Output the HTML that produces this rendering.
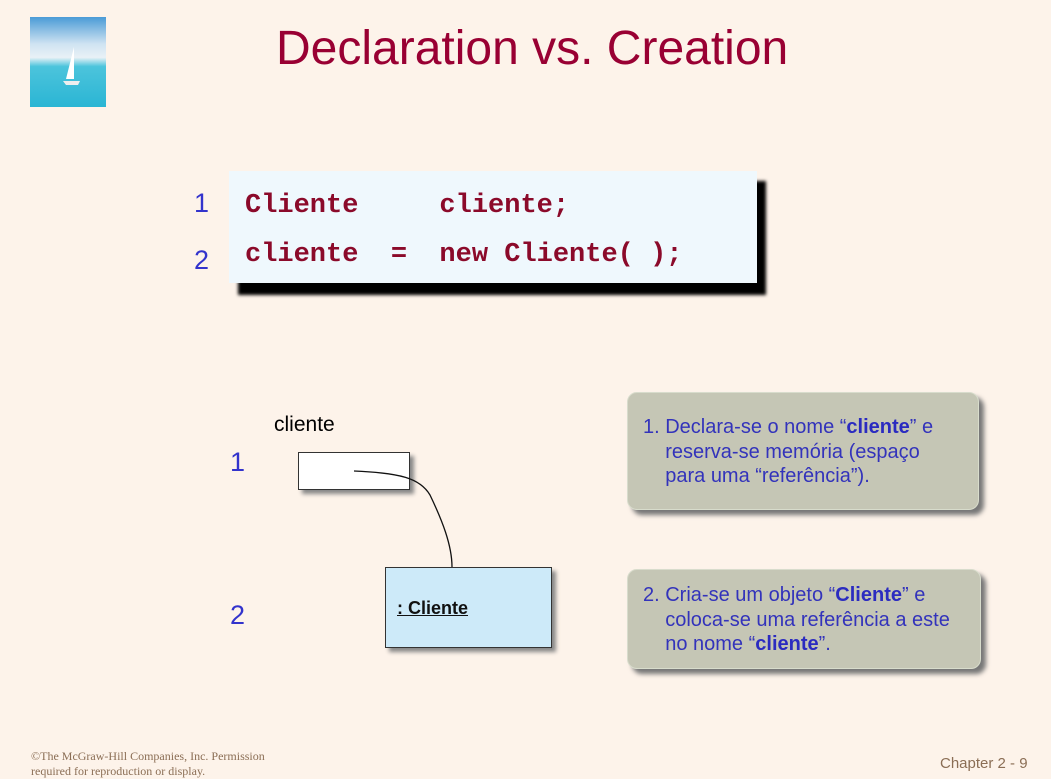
<!DOCTYPE html>
<html><head><meta charset="utf-8"><style>
body{margin:0;width:1051px;height:772px;background:#fdf3ea;position:relative;overflow:hidden;font-family:"Liberation Sans",sans-serif}
.a{position:absolute}
.code{font-family:"Liberation Mono",monospace;font-weight:bold;color:#8b0a2a;font-size:27px;white-space:pre}
.num{color:#3333cc;font-size:27px}
.note{background:#c5c6b5;border:1px solid #d8dccc;border-radius:10px;box-shadow:5px 5px 5px #777;color:#3333bb;font-size:20px;line-height:24.5px}
.note b{color:#2b2bc0}
</style></head><body>
<div class="a" style="left:30px;top:17px;width:76px;height:90px;background:linear-gradient(#4a9bd6 0%,#cfe3f2 30%,#e9f1f6 45%,#4cc4dc 55%,#2ab5d4 100%)"></div>
<svg class="a" style="left:30px;top:17px" width="76" height="90"><path d="M44 30 L44 62 L36 62 Z" fill="#fff"/><path d="M33 64 L50 64 L48 68 L36 68Z" fill="#eee"/></svg>
<div class="a" style="left:276px;top:21px;font-size:48px;color:#990033">Declaration vs. Creation</div>

<div class="a" style="left:238px;top:181px;width:528px;height:114px;background:#000;filter:blur(1.5px)"></div>
<div class="a" style="left:229px;top:171px;width:528px;height:112px;background:#eff8fd"></div>
<div class="a num" style="left:194px;top:188px">1</div>
<div class="a num" style="left:194px;top:245px">2</div>
<div class="a code" style="left:245px;top:191px">Cliente     cliente;</div>
<div class="a code" style="left:245px;top:240px">cliente  =  new Cliente( );</div>

<div class="a" style="left:274px;top:413px;font-size:21px;color:#000">cliente</div>
<div class="a num" style="left:230px;top:447px">1</div>
<div class="a num" style="left:230px;top:600px">2</div>
<div class="a" style="left:298px;top:452px;width:110px;height:36px;background:#fff;border:1px solid #333;box-shadow:4px 4px 4px #888"></div>
<div class="a" style="left:385px;top:567px;width:165px;height:79px;background:#cdeaf9;border:1px solid #333;box-shadow:4px 4px 4px #888"></div>
<div class="a" style="left:397px;top:598px;font-size:18px;font-weight:bold;text-decoration:underline;color:#111">: Cliente</div>
<svg class="a" style="left:0;top:0" width="1051" height="772"><path d="M354 471 C400 473 420 478 430 495 C442 520 452 545 452 567" fill="none" stroke="#111" stroke-width="1.3"/></svg>

<div class="a note" style="left:627px;top:392px;width:350px;height:116px">
<div style="padding:22px 0 0 15px">1. Declara-se o nome “<b>cliente</b>” e<br>&nbsp;&nbsp;&nbsp;&nbsp;reserva-se memória (espaço<br>&nbsp;&nbsp;&nbsp;&nbsp;para uma “referência”).</div></div>
<div class="a note" style="left:627px;top:569px;width:352px;height:98px">
<div style="padding:13px 0 0 15px">2. Cria-se um objeto “<b>Cliente</b>” e<br>&nbsp;&nbsp;&nbsp;&nbsp;coloca-se uma referência a este<br>&nbsp;&nbsp;&nbsp;&nbsp;no nome “<b>cliente</b>”.</div></div>

<div class="a" style="left:31px;top:749px;font-family:'Liberation Serif',serif;font-size:12px;color:#8b6e55;line-height:15px">©The McGraw-Hill Companies, Inc. Permission<br>required for reproduction or display.</div>
<div class="a" style="left:940px;top:755px;font-size:15px;color:#8b6e55">Chapter 2 - 9</div>
</body></html>
